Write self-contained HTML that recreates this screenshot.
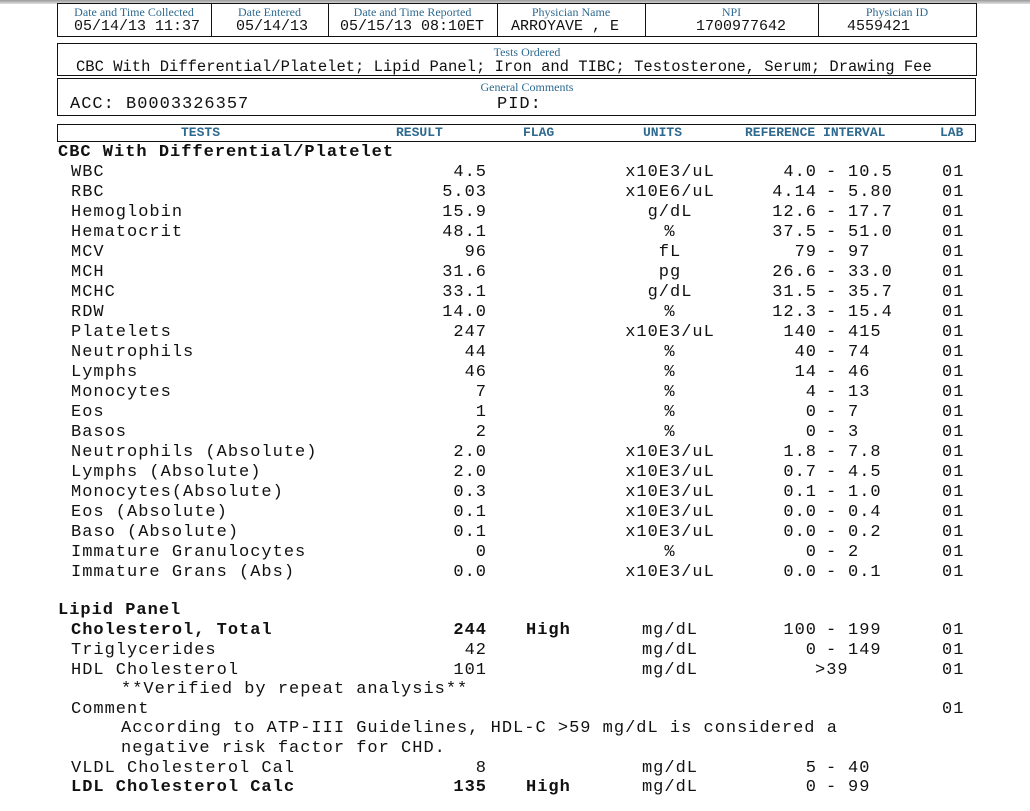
<!DOCTYPE html>
<html><head><meta charset="utf-8"><style>
body{margin:0;width:1030px;height:811px;background:#fff;position:relative;overflow:hidden;font-family:"Liberation Mono",monospace;color:#111}
.top{position:absolute;left:0;top:0;width:1030px;height:4px;background:linear-gradient(#9a9a9a,#e0e0e0)}
.box{position:absolute;border:1.5px solid #111;box-sizing:border-box}
.lbl{position:absolute;font-family:"Liberation Serif",serif;font-size:12px;color:#2e6a90;text-align:center;white-space:nowrap}
.hv{position:absolute;font-size:15px;white-space:pre}
.ch{position:absolute;top:125px;font-size:13px;font-weight:bold;color:#2e6a90;white-space:pre}
.r{position:absolute;left:0;width:1030px;height:20px;font-size:17px;letter-spacing:1px;line-height:20px;white-space:pre}
.r span{position:absolute;top:0}
.n{left:71px}.v{right:543px}.f{left:526px}.u{left:570px;width:200px;text-align:center}
.lo{right:213px}.d{left:826px}.hi{left:848px}.l{left:942px}
.b{font-weight:bold}
.vl{position:absolute;top:3px;height:33px;border-left:1.5px solid #111}
</style></head><body>
<div class="top"></div>
<div class="box" style="left:57px;top:3px;width:920px;height:34px"></div>
<div class="vl" style="left:211px"></div><div class="vl" style="left:328px"></div><div class="vl" style="left:497px"></div><div class="vl" style="left:645px"></div><div class="vl" style="left:818px"></div>
<div class="lbl" style="left:57px;width:154px;top:5px">Date and Time Collected</div>
<div class="lbl" style="left:211px;width:117px;top:5px">Date Entered</div>
<div class="lbl" style="left:328px;width:169px;top:5px">Date and Time Reported</div>
<div class="lbl" style="left:497px;width:148px;top:5px">Physician Name</div>
<div class="lbl" style="left:645px;width:173px;top:5px">NPI</div>
<div class="lbl" style="left:818px;width:158px;top:5px">Physician ID</div>
<div class="hv" style="left:74px;top:18px">05/14/13 11:37</div>
<div class="hv" style="left:236px;top:18px">05/14/13</div>
<div class="hv" style="left:340px;top:18px">05/15/13 08:10ET</div>
<div class="hv" style="left:511px;top:18px">ARROYAVE , E</div>
<div class="hv" style="left:696px;top:18px">1700977642</div>
<div class="hv" style="left:847px;top:18px">4559421</div>

<div class="box" style="left:57px;top:43px;width:920px;height:33px"></div>
<div class="lbl" style="left:57px;width:940px;top:45px">Tests Ordered</div>
<div class="hv" style="left:76px;top:58px;font-size:15.5px">CBC With Differential/Platelet; Lipid Panel; Iron and TIBC; Testosterone, Serum; Drawing Fee</div>

<div class="box" style="left:57px;top:78px;width:919px;height:38px"></div>
<div class="lbl" style="left:57px;width:940px;top:80px">General Comments</div>
<div class="r" style="top:95px"><span style="left:70px">ACC: B0003326357</span><span style="left:497px">PID:</span></div>

<div class="box" style="left:57px;top:124px;width:919px;height:18px"></div>
<div class="ch" style="left:181px">TESTS</div>
<div class="ch" style="left:396px">RESULT</div>
<div class="ch" style="left:523px">FLAG</div>
<div class="ch" style="left:643px">UNITS</div>
<div class="ch" style="left:745px">REFERENCE INTERVAL</div>
<div class="ch" style="left:940px">LAB</div>

<div class="r b" style="top:143px"><span style="left:58px">CBC With Differential/Platelet</span></div>
<div class="r" style="top:163px"><span class="n">WBC</span><span class="v">4.5</span><span class="u">x10E3/uL</span><span class="lo">4.0</span><span class="d">-</span><span class="hi">10.5</span><span class="l">01</span></div>
<div class="r" style="top:183px"><span class="n">RBC</span><span class="v">5.03</span><span class="u">x10E6/uL</span><span class="lo">4.14</span><span class="d">-</span><span class="hi">5.80</span><span class="l">01</span></div>
<div class="r" style="top:203px"><span class="n">Hemoglobin</span><span class="v">15.9</span><span class="u">g/dL</span><span class="lo">12.6</span><span class="d">-</span><span class="hi">17.7</span><span class="l">01</span></div>
<div class="r" style="top:223px"><span class="n">Hematocrit</span><span class="v">48.1</span><span class="u">%</span><span class="lo">37.5</span><span class="d">-</span><span class="hi">51.0</span><span class="l">01</span></div>
<div class="r" style="top:243px"><span class="n">MCV</span><span class="v">96</span><span class="u">fL</span><span class="lo">79</span><span class="d">-</span><span class="hi">97</span><span class="l">01</span></div>
<div class="r" style="top:263px"><span class="n">MCH</span><span class="v">31.6</span><span class="u">pg</span><span class="lo">26.6</span><span class="d">-</span><span class="hi">33.0</span><span class="l">01</span></div>
<div class="r" style="top:283px"><span class="n">MCHC</span><span class="v">33.1</span><span class="u">g/dL</span><span class="lo">31.5</span><span class="d">-</span><span class="hi">35.7</span><span class="l">01</span></div>
<div class="r" style="top:303px"><span class="n">RDW</span><span class="v">14.0</span><span class="u">%</span><span class="lo">12.3</span><span class="d">-</span><span class="hi">15.4</span><span class="l">01</span></div>
<div class="r" style="top:323px"><span class="n">Platelets</span><span class="v">247</span><span class="u">x10E3/uL</span><span class="lo">140</span><span class="d">-</span><span class="hi">415</span><span class="l">01</span></div>
<div class="r" style="top:343px"><span class="n">Neutrophils</span><span class="v">44</span><span class="u">%</span><span class="lo">40</span><span class="d">-</span><span class="hi">74</span><span class="l">01</span></div>
<div class="r" style="top:363px"><span class="n">Lymphs</span><span class="v">46</span><span class="u">%</span><span class="lo">14</span><span class="d">-</span><span class="hi">46</span><span class="l">01</span></div>
<div class="r" style="top:383px"><span class="n">Monocytes</span><span class="v">7</span><span class="u">%</span><span class="lo">4</span><span class="d">-</span><span class="hi">13</span><span class="l">01</span></div>
<div class="r" style="top:403px"><span class="n">Eos</span><span class="v">1</span><span class="u">%</span><span class="lo">0</span><span class="d">-</span><span class="hi">7</span><span class="l">01</span></div>
<div class="r" style="top:423px"><span class="n">Basos</span><span class="v">2</span><span class="u">%</span><span class="lo">0</span><span class="d">-</span><span class="hi">3</span><span class="l">01</span></div>
<div class="r" style="top:443px"><span class="n">Neutrophils (Absolute)</span><span class="v">2.0</span><span class="u">x10E3/uL</span><span class="lo">1.8</span><span class="d">-</span><span class="hi">7.8</span><span class="l">01</span></div>
<div class="r" style="top:463px"><span class="n">Lymphs (Absolute)</span><span class="v">2.0</span><span class="u">x10E3/uL</span><span class="lo">0.7</span><span class="d">-</span><span class="hi">4.5</span><span class="l">01</span></div>
<div class="r" style="top:483px"><span class="n">Monocytes(Absolute)</span><span class="v">0.3</span><span class="u">x10E3/uL</span><span class="lo">0.1</span><span class="d">-</span><span class="hi">1.0</span><span class="l">01</span></div>
<div class="r" style="top:503px"><span class="n">Eos (Absolute)</span><span class="v">0.1</span><span class="u">x10E3/uL</span><span class="lo">0.0</span><span class="d">-</span><span class="hi">0.4</span><span class="l">01</span></div>
<div class="r" style="top:523px"><span class="n">Baso (Absolute)</span><span class="v">0.1</span><span class="u">x10E3/uL</span><span class="lo">0.0</span><span class="d">-</span><span class="hi">0.2</span><span class="l">01</span></div>
<div class="r" style="top:543px"><span class="n">Immature Granulocytes</span><span class="v">0</span><span class="u">%</span><span class="lo">0</span><span class="d">-</span><span class="hi">2</span><span class="l">01</span></div>
<div class="r" style="top:563px"><span class="n">Immature Grans (Abs)</span><span class="v">0.0</span><span class="u">x10E3/uL</span><span class="lo">0.0</span><span class="d">-</span><span class="hi">0.1</span><span class="l">01</span></div>

<div class="r b" style="top:601px"><span style="left:58px">Lipid Panel</span></div>
<div class="r" style="top:621px"><span class="n b">Cholesterol, Total</span><span class="v b">244</span><span class="f b">High</span><span class="u">mg/dL</span><span class="lo">100</span><span class="d">-</span><span class="hi">199</span><span class="l">01</span></div>
<div class="r" style="top:641px"><span class="n">Triglycerides</span><span class="v">42</span><span class="u">mg/dL</span><span class="lo">0</span><span class="d">-</span><span class="hi">149</span><span class="l">01</span></div>
<div class="r" style="top:661px"><span class="n">HDL Cholesterol</span><span class="v">101</span><span class="u">mg/dL</span><span style="left:815px">&gt;39</span><span class="l">01</span></div>
<div class="r" style="top:680px"><span style="left:121px">**Verified by repeat analysis**</span></div>
<div class="r" style="top:700px"><span class="n">Comment</span><span class="l">01</span></div>
<div class="r" style="top:719px"><span style="left:121px">According to ATP-III Guidelines, HDL-C &gt;59 mg/dL is considered a</span></div>
<div class="r" style="top:739px"><span style="left:121px">negative risk factor for CHD.</span></div>
<div class="r" style="top:759px"><span class="n">VLDL Cholesterol Cal</span><span class="v">8</span><span class="u">mg/dL</span><span class="lo">5</span><span class="d">-</span><span class="hi">40</span></div>
<div class="r" style="top:778px"><span class="n b">LDL Cholesterol Calc</span><span class="v b">135</span><span class="f b">High</span><span class="u">mg/dL</span><span class="lo">0</span><span class="d">-</span><span class="hi">99</span></div>
</body></html>
